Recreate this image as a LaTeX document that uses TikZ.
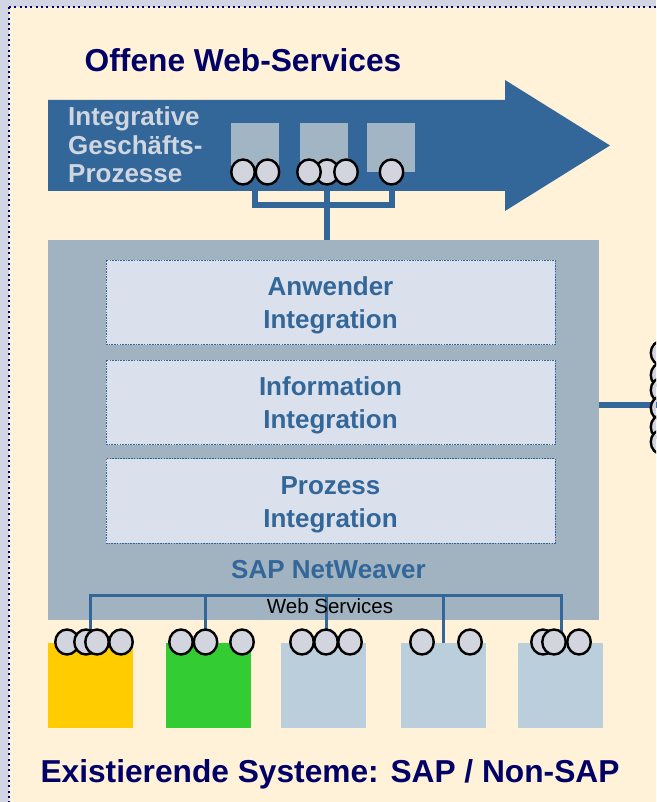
\documentclass[tikz,border=0pt]{standalone}
\usepackage{fontspec}
\setmainfont{Liberation Sans}
\usetikzlibrary{shapes.geometric}
\pgfdeclarelayer{bg}
\pgfdeclarelayer{wires}
\pgfsetlayers{bg,wires,main}
\definecolor{outergray}{HTML}{D2D6E2}
\definecolor{cream}{HTML}{FFF2D8}
\definecolor{navy}{HTML}{000066}
\definecolor{dotnavy}{HTML}{000080}
\definecolor{sapblue}{HTML}{336699}
\definecolor{arrowtext}{HTML}{D0D6E0}
\definecolor{squaregray}{HTML}{A2B5C4}
\definecolor{nwgray}{HTML}{A1B3C1}
\definecolor{innerfill}{HTML}{DBE1EC}
\definecolor{circfill}{HTML}{D2D5DD}
\definecolor{syslight}{HTML}{BACFDB}
\definecolor{sysyellow}{HTML}{FFCC00}
\definecolor{sysgreen}{HTML}{33CC33}
\tikzset{
  plainbox/.style={rectangle, inner sep=0pt, draw=none},
  innerbox/.style={rectangle, inner sep=0pt, fill=innerfill, draw=sapblue, line width=0.9pt, dash pattern=on 1.6pt off 1.1pt, minimum width=449pt, minimum height=84.5pt},
  sysbox/.style={rectangle, inner sep=0pt, minimum width=85pt, minimum height=85pt},
  square/.style={rectangle, inner sep=0pt, fill=squaregray, minimum width=48pt, minimum height=49pt},
  circ/.style={ellipse, inner sep=0pt, fill=circfill, draw=black, line width=2.4pt, minimum width=23.5pt, minimum height=25pt},
  titletext/.style={font=\fontsize{31.7}{31.7}\selectfont\bfseries, text=navy, anchor=base, inner sep=0pt},
  arrowlabel/.style={font=\fontsize{26}{26}\selectfont\bfseries, text=arrowtext, anchor=base west, inner sep=0pt},
  boxtext/.style={font=\fontsize{26}{26}\selectfont\bfseries, text=sapblue, anchor=base, inner sep=0pt},
  smalltext/.style={font=\fontsize{20.5}{20.5}\selectfont, text=black, anchor=base, inner sep=0pt},
  thickwire/.style={draw=sapblue, line width=6pt},
  thinwire/.style={draw=sapblue, line width=3pt},
}
\begin{document}
\begin{tikzpicture}[x=1pt, y=-1pt]
\useasboundingbox (0,0) rectangle (656,802);
\clip (0,0) rectangle (656,802);

\begin{pgfonlayer}{bg}
  \fill[outergray] (0,0) rectangle (656,802);
  \fill[cream] (9,7) rectangle (656,802);
  \draw[dotnavy, line width=2pt, dash pattern=on 2pt off 3.33pt] (9,7) -- (656,7);
  \draw[dotnavy, line width=2pt, dash pattern=on 2pt off 3.33pt] (9,7) -- (9,802);
  % big process arrow
  \fill[sapblue] (48,100) -- (505,100) -- (505,80) -- (610,145.5) -- (505,211) -- (505,191) -- (48,191) -- cycle;
  \node[square] (sq1) at (255,147.5) {};
  \node[square] (sq2) at (323.5,147.5) {};
  \node[square] (sq3) at (391,147.5) {};
  % NetWeaver block
  \node[plainbox, fill=nwgray, minimum width=551pt, minimum height=380pt] (nw) at (323.5,430) {};
  \node[innerbox] (ib1) at (330.5,302.25) {};
  \node[innerbox] (ib2) at (330.5,402.25) {};
  \node[innerbox] (ib3) at (330.5,500.75) {};
  % existing systems
  \node[sysbox, fill=sysyellow] (sys1) at (90.5,685.5) {};
  \node[sysbox, fill=sysgreen] (sys2) at (208.5,685.5) {};
  \node[sysbox, fill=syslight] (sys3) at (323.5,685.5) {};
  \node[sysbox, fill=syslight] (sys4) at (443.5,685.5) {};
  \node[sysbox, fill=syslight] (sys5) at (560.5,685.5) {};
\end{pgfonlayer}

% circles (service interfaces)
\coordinate (tj1) at (255,172);
\node[circ] (t2) at (327,172) {};
\node[circ] (t1a) at (243,172) {};
\node[circ] (t1b) at (267.5,172) {};
\node[circ] (t2a) at (309,172) {};
\node[circ] (t2b) at (346,172) {};
\node[circ] (t3) at (391.5,172) {};

\node[circ] (b1a) at (67,642) {};
\node[circ] (b1b) at (86,642) {};
\node[circ] (b1c) at (97,642) {};
\node[circ] (b1d) at (121,642) {};
\node[circ] (b2a) at (181,642) {};
\node[circ] (b2b) at (205.5,642) {};
\node[circ] (b2c) at (242,642) {};
\node[circ] (b3a) at (302,642) {};
\node[circ] (b3b) at (326,642) {};
\node[circ] (b3c) at (350,642) {};
\node[circ] (b4a) at (422,642) {};
\node[circ] (b4b) at (470,642) {};
\node[circ] (b5a) at (543,642) {};
\node[circ] (b5b) at (554,642) {};
\node[circ] (b5c) at (579,642) {};

\node[circ] (r1) at (662.5,353) {};
\node[circ] (r2) at (662.5,375) {};
\node[circ] (r3) at (662.5,390) {};
\node[circ] (r4) at (662.5,408) {};
\node[circ] (r5) at (662.5,427) {};
\node[circ] (r6) at (662.5,442) {};

% connectors
\coordinate (bj1) at (90,642);
\coordinate (bj5) at (561,642);
\coordinate (rj) at (662,405);
\begin{pgfonlayer}{wires}
  \draw[thickwire] (tj1) |- (255,205) -| (t3.center);
  \draw[thickwire] (t2.center) -- (t2.center |- nw.north);
  \draw[thinwire] (bj1) |- (bj5 |- 0,595) -- (bj5);
  \draw[thinwire] (b2b.center) -- (b2b.center |- 0,595);
  \draw[thinwire] (b3b.center) -- (b3b.center |- 0,595);
  \draw[thinwire] (sys4.north) -- (sys4.north |- 0,595);
  \draw[thickwire] (nw.east |- rj) -- (rj);
\end{pgfonlayer}

% texts
\node[titletext] (title) at (243,72) {Offene Web-Services};
\node[arrowlabel] (al1) at (68,126) {Integrative};
\node[arrowlabel] (al2) at (68,154.5) {Geschäfts-};
\node[arrowlabel] (al3) at (68,183) {Prozesse};
\node[boxtext] (ib1a) at (330.5,295.5) {Anwender};
\node[boxtext] (ib1b) at (330.5,328.5) {Integration};
\node[boxtext] (ib2a) at (330.5,395.5) {Information};
\node[boxtext] (ib2b) at (330.5,428.5) {Integration};
\node[boxtext] (ib3a) at (330.5,494) {Prozess};
\node[boxtext] (ib3b) at (330.5,527) {Integration};
\node[boxtext] (nwlabel) at (328.5,578) {SAP NetWeaver};
\node[smalltext] (wslabel) at (330,613) {Web Services};
\node[titletext] (bottomtitle) at (330,782) {Existierende Systeme: SAP / Non-SAP};
\end{tikzpicture}
\end{document}
